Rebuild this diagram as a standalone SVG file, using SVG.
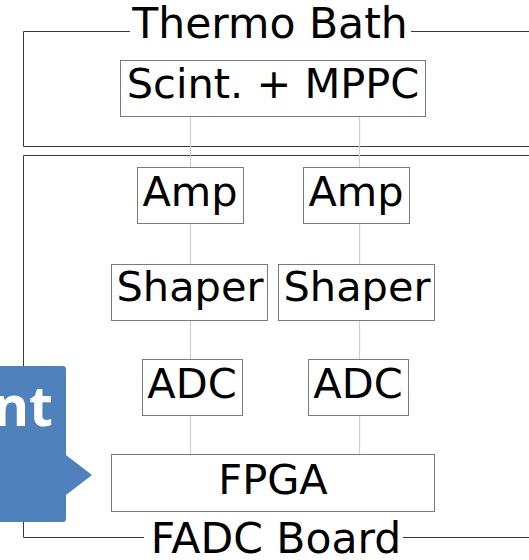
<svg xmlns="http://www.w3.org/2000/svg" width="529" height="560" viewBox="0 0 529 560">
<style>
text{font-family:"DejaVu Sans",Verdana,sans-serif;font-size:41.5px;fill:#000;text-anchor:middle}
.title{font-size:42.5px}
.frame{fill:none;stroke:#3a3a3a;stroke-width:1}
.box{fill:#fff;stroke:#7a7a7a;stroke-width:1}
.conn{stroke:#d0d0d0;stroke-width:1.2;fill:none}
.bg{fill:#fff}
</style>
<rect width="529" height="560" fill="#fff"/>
<g id="thermo-bath">
<path class="frame" d="M540 31.5H23.5V146.5H540"/>
<rect class="bg" x="130" y="0" width="281" height="57"/>
<text class="title" x="270" y="38">Thermo Bath</text>
</g>
<g id="fadc-board">
<path class="frame" d="M540 155.5H23.5V537.5H540"/>
<rect class="bg" x="144" y="514" width="259" height="46"/>
<text class="title" x="276" y="553">FADC Board</text>
</g>
<g id="connectors">
<line class="conn" x1="190.5" y1="117" x2="190.5" y2="454"/>
<line class="conn" x1="359.5" y1="117" x2="359.5" y2="454"/>
</g>
<g id="scint-mppc">
<rect class="box" x="120.5" y="60.5" width="305" height="56"/>
<text x="273" y="98">Scint. + MPPC</text>
</g>
<g id="amp1">
<rect class="box" x="137.5" y="167.5" width="106" height="56"/>
<text x="190" y="206">Amp</text>
</g>
<g id="amp2">
<rect class="box" x="303.5" y="167.5" width="106" height="56"/>
<text x="356" y="206">Amp</text>
</g>
<g id="shaper1">
<rect class="box" x="111.5" y="264.5" width="156" height="56"/>
<text x="190" y="301">Shaper</text>
</g>
<g id="shaper2">
<rect class="box" x="278.5" y="264.5" width="156" height="56"/>
<text x="357" y="301">Shaper</text>
</g>
<g id="adc1">
<rect class="box" x="142.5" y="359.5" width="100" height="56"/>
<text x="192" y="398">ADC</text>
</g>
<g id="adc2">
<rect class="box" x="308.5" y="359.5" width="100" height="56"/>
<text x="358" y="398">ADC</text>
</g>
<g id="fpga">
<rect class="box" x="111.5" y="454.5" width="323" height="57"/>
<text x="273" y="494">FPGA</text>
</g>
<g id="callout">
<path d="M-10 366H63Q66 366 66 369V455L92 475L66 495V519Q66 522 63 522H-10Z" fill="#4f81bd"/>
<text x="53" y="426" style="font-family:'Open Sans','Noto Sans',sans-serif;font-weight:bold;font-size:55px;fill:#fff;text-anchor:end">nt</text>
</g>
</svg>
